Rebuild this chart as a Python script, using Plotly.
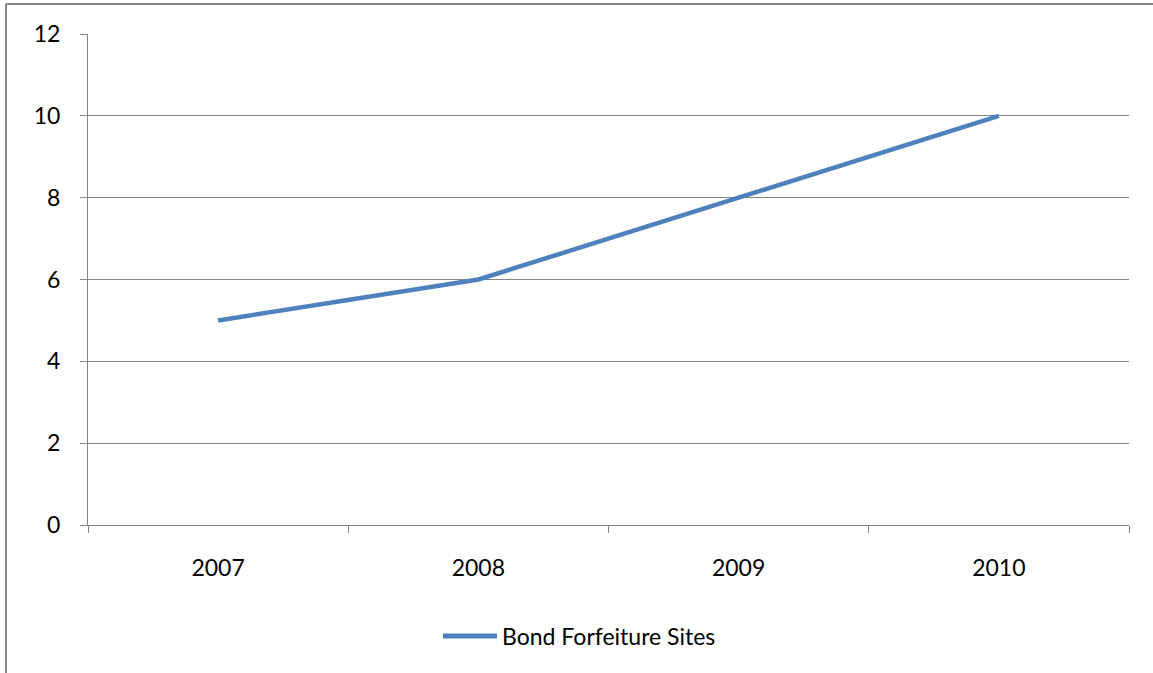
import plotly.graph_objects as go

years = ["2007", "2008", "2009", "2010"]
sites = [5, 6, 8, 10]
series_name = "Bond Forfeiture Sites"

L, R, T, B = 88, 1129, 34, 525
W, H = 1153, 673
pw, ph = R - L, B - T
def px(x): return (x - L) / pw
def py(y): return (B - y) / ph

blue = "#4F81BD"
grey = "#868686"
font = dict(family="Lato, Open Sans, sans-serif", size=23, color="#000000")

fig = go.Figure()
fig.add_trace(go.Scatter(x=years, y=sites, mode="lines", name=series_name,
                         line=dict(color=blue, width=4.5), showlegend=False))

fig.update_layout(
    width=W, height=H,
    margin=dict(l=L, r=W - R, t=T, b=H - B, pad=0),
    paper_bgcolor="white", plot_bgcolor="white",
    font=font,
    showlegend=False,
    xaxis=dict(type="category", range=[-0.5, 3.5], tickson="boundaries",
               ticks="outside", ticklen=7, tickcolor=grey, tickwidth=1,
               showline=True, linecolor=grey, linewidth=1, showgrid=False,
               ticklabelstandoff=22, tickfont=font, zeroline=False),
    yaxis=dict(range=[0, 12], dtick=2, ticks="outside", ticklen=7,
               tickcolor=grey, showline=True, linecolor=grey, linewidth=1,
               showgrid=True, gridcolor=grey, gridwidth=1, zeroline=False,
               ticklabelstandoff=15, tickfont=font),
    shapes=[
        dict(type="line", xref="paper", yref="paper",
             x0=px(6), x1=px(6), y0=py(4), y1=py(H + 5),
             line=dict(color=grey, width=2)),
        dict(type="line", xref="paper", yref="paper",
             x0=px(6), x1=px(W + 5), y0=py(4), y1=py(4),
             line=dict(color=grey, width=2)),
        dict(type="line", xref="paper", yref="paper",
             x0=px(443), x1=px(497), y0=py(636), y1=py(636),
             line=dict(color=blue, width=5)),
    ],
    annotations=[
        dict(text=series_name, xref="paper", yref="paper", x=px(500), y=py(636),
             xanchor="left", yanchor="middle", showarrow=False, font=font),
    ],
)

fig.write_html("out.html", config={"displayModeBar": False},
               post_script="document.body.style.margin='0';document.body.style.overflow='hidden';")
